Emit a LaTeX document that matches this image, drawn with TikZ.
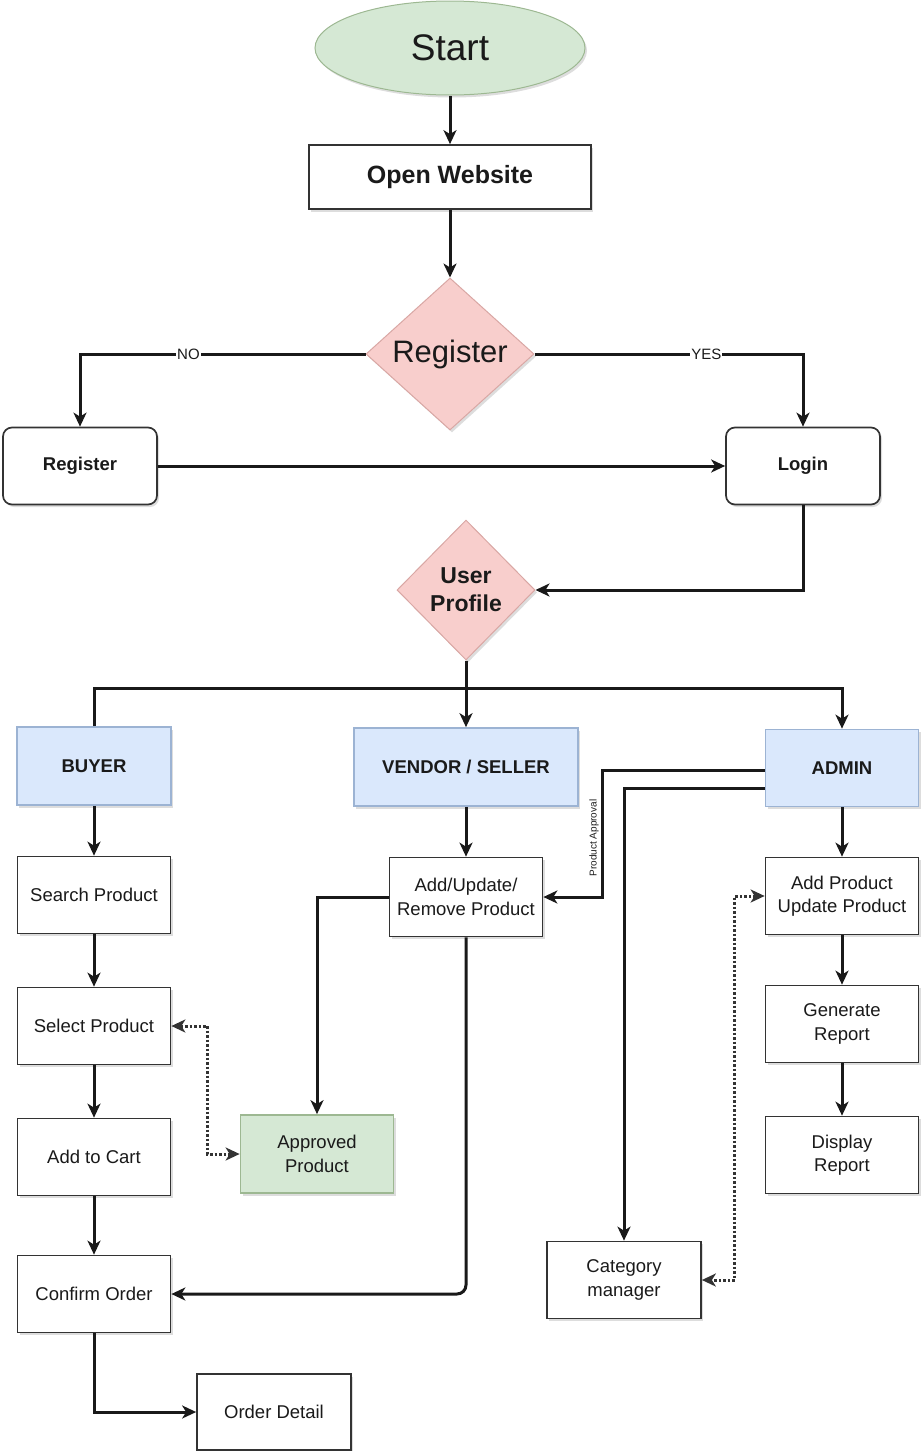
\documentclass[tikz,border=0pt]{standalone}
\usepackage{fontspec}
\setmainfont{Liberation Sans}
\usetikzlibrary{arrows.meta,shapes.geometric,shadows,calc}
\definecolor{gfill}{HTML}{D5E8D4}
\definecolor{gdraw}{HTML}{9DB892}
\definecolor{rfill}{HTML}{F8CECC}
\definecolor{rdraw}{HTML}{D9A7A4}
\definecolor{bfill}{HTML}{DAE8FC}
\definecolor{bdraw}{HTML}{9CB3D3}
\definecolor{txt}{HTML}{1A1A1A}
\tikzset{
  shad/.style={drop shadow={shadow xshift=2pt,shadow yshift=-2.5pt,opacity=0.22,fill=black!60}},
  box/.style={draw=black!80,line width=1.7pt,fill=white,minimum width=153pt,minimum height=77pt,
    inner sep=0pt,align=center,text=txt,font=\fontsize{18.5}{23.5}\selectfont,shad},
  rbox/.style={box,rounded corners=9pt,font=\bfseries\fontsize{18.5}{23}\selectfont},
  bluebox/.style={box,fill=bfill,draw=bdraw,font=\bfseries\fontsize{18.5}{23}\selectfont},
  greenbox/.style={box,fill=gfill,draw=gdraw},
  dia/.style={diamond,draw=rdraw,fill=rfill,line width=1pt,inner sep=0pt,align=center,text=txt,shad},
  tip/.style={},
  conn/.style={line width=3pt,draw=black!90,-{Stealth[length=14pt,width=13pt,inset=4pt]}},
  plain/.style={line width=3pt,draw=black!90},
  dotconn/.style={line width=3pt,draw=black!80,dash pattern=on 2.5pt off 2pt,
    {Stealth[length=14pt,width=13pt,inset=4pt]}-{Stealth[length=14pt,width=13pt,inset=4pt]}},
  lbl/.style={fill=white,inner sep=1pt,text=txt,font=\fontsize{15}{17}\selectfont},
}
\begin{document}
\begin{tikzpicture}[x=1pt,y=-1pt]
\useasboundingbox (0,0) rectangle (922,1451);
% top
\node[ellipse,draw=gdraw,fill=gfill,line width=1pt,minimum width=270pt,minimum height=94pt,inner sep=0pt,
  text=txt,font=\fontsize{37}{40}\selectfont,shad] (start) at (450,48) {Start};
\node[box,minimum width=282pt,minimum height=64pt,font=\bfseries\fontsize{25}{28}\selectfont] (open) at (450,177) {Open Website};
\node[dia,minimum width=168pt,minimum height=152pt,font=\fontsize{31}{34}\selectfont] (reg) at (450,354) {Register};
\node[rbox,minimum width=154pt] (regbox) at (80,466) {Register};
\node[rbox,minimum width=154pt] (login) at (803,466) {Login};
\node[dia,minimum width=138pt,minimum height=140pt,font=\bfseries\fontsize{23}{28}\selectfont] (profile) at (466,590) {User\\Profile};
% roles
\node[bluebox,minimum width=154pt,minimum height=78pt] (buyer) at (94,766) {BUYER};
\node[bluebox,minimum width=224pt,minimum height=78pt] (vendor) at (466,767) {VENDOR / SELLER};
\node[bluebox,minimum width=153pt,minimum height=77pt] (admin) at (842,768) {ADMIN};
% buyer column
\node[box] (search) at (94,895) {Search Product};
\node[box] (select) at (94,1026) {Select Product};
\node[box] (cart) at (94,1157) {Add to Cart};
\node[box] (confirm) at (94,1294) {Confirm Order};
\node[box,minimum width=154pt,minimum height=76pt] (order) at (274,1412) {Order Detail};
% vendor column
\node[box,minimum height=79pt] (addupd) at (466,897) {Add/Update/\\Remove Product};
\node[greenbox,minimum height=78pt] (approved) at (317,1154) {Approved\\Product};
% admin column
\node[box] (addprod) at (842,896) {Add Product\\Update Product};
\node[box] (genrep) at (842,1024) {Generate\\Report};
\node[box] (disprep) at (842,1155) {Display\\Report};
\node[box,minimum width=154pt] (catmgr) at (624,1280) {Category\\manager};
% connectors
\draw[conn] (start) -- (open);
\draw[conn] (open) -- (reg);
\draw[conn] (reg.west) -| node[lbl,pos=0.31] (no) {NO} (regbox.north);
\draw[conn] (reg.east) -| node[lbl,pos=0.32] (yes) {YES} (login.north);
\draw[conn] (regbox) -- (login);
\draw[conn] (login.south) |- (profile.east);
\coordinate (split) at (466,688);
\draw[plain] (profile.south) -- (split);
\draw[conn] (split) -- (vendor.north);
\draw[plain] (buyer.north) |- (split);
\draw[conn] (split) -| (admin.north);
\draw[conn] (buyer) -- (search);
\draw[conn] (search) -- (select);
\draw[conn] (select) -- (cart);
\draw[conn] (cart) -- (confirm);
\draw[conn] (confirm.south) |- (order.west);
\draw[conn] (vendor) -- (addupd);
\draw[conn] (addupd.west) -| (approved.north);
\draw[conn,rounded corners=9pt] (addupd.south) |- (confirm.east);
\draw[dotconn] (select.east) -- ++(36,0) |- (approved.west);
\draw[conn] (admin) -- (addprod);
\draw[conn] (addprod) -- (genrep);
\draw[conn] (genrep) -- (disprep);
\draw[conn] ([yshift=-2pt]admin.west) -- ++(-162,0) |- (addupd.east);
\node[rotate=90,inner sep=0pt,text=txt,font=\fontsize{10}{12}\selectfont] (papp) at (594,838) {Product Approval};
\draw[conn] ([yshift=-20pt]admin.west) -| (catmgr.north);
\draw[dotconn] (addprod.west) -- ++(-30,0) |- (catmgr.east);
\end{tikzpicture}
\end{document}
